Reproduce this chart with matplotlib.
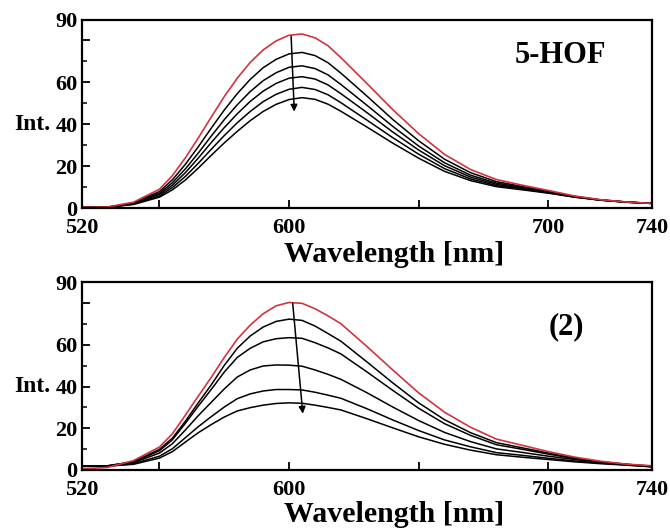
import matplotlib
matplotlib.use('Agg')
import matplotlib.pyplot as plt

plt.rcParams['font.family'] = ['Liberation Serif', 'DejaVu Serif']
plt.rcParams['font.weight'] = 'bold'

_WL = [520, 530, 540, 550, 555, 560, 565, 570, 575, 580, 585, 590, 595,
       600, 605, 610, 615, 620, 630, 640, 650, 660, 670, 680, 690, 700,
       710, 720, 730, 740]

# 5-HOF emission, first spectrum (red) and the following five
_HOF_RED = [0.3, 0.5, 2.8, 9.0, 15.5, 24.0, 33.5, 43.5, 53.2, 62.0, 69.5,
            75.5, 79.8, 82.5, 83.1, 81.3, 77.5, 71.8, 59.5, 47.0, 35.5,
            25.6, 18.4, 13.6, 10.9, 8.4, 5.8, 4.0, 2.9, 2.2]
_HOF_1 = [0.3, 0.45, 2.5, 7.9, 13.5, 20.9, 29.3, 38.2, 46.8, 54.6, 61.4,
          67.0, 71.0, 73.6, 74.3, 72.8, 69.4, 64.4, 53.5, 42.3, 32.1, 23.3,
          16.9, 12.6, 10.3, 8.0, 5.6, 3.9, 2.9, 2.2]
_HOF_2 = [0.3, 0.41, 2.3, 7.1, 12.1, 18.7, 26.3, 34.4, 42.2, 49.3, 55.6,
          60.8, 64.6, 67.2, 67.9, 66.6, 63.6, 59.0, 49.1, 39.0, 29.6, 21.6,
          15.7, 11.9, 9.8, 7.8, 5.5, 3.9, 2.9, 2.2]
_HOF_3 = [0.2, 0.38, 2.1, 6.5, 10.9, 16.9, 23.9, 31.3, 38.4, 45.0, 50.9,
          55.8, 59.5, 62.0, 62.7, 61.6, 58.8, 54.6, 45.6, 36.3, 27.7, 20.2,
          14.8, 11.3, 9.4, 7.6, 5.4, 3.8, 2.8, 2.2]
_HOF_4 = [0.2, 0.35, 1.9, 5.8, 9.8, 15.1, 21.4, 28.1, 34.6, 40.7, 46.1,
          50.8, 54.3, 56.7, 57.6, 56.6, 54.1, 50.3, 42.0, 33.6, 25.7, 18.8,
          13.9, 10.7, 9.1, 7.3, 5.3, 3.8, 2.8, 2.2]
_HOF_5 = [0.2, 0.33, 1.7, 5.2, 8.7, 13.4, 19.1, 25.2, 31.1, 36.6, 41.7,
          46.1, 49.5, 51.8, 52.7, 51.9, 49.6, 46.2, 38.7, 31.0, 23.8, 17.5,
          13.1, 10.2, 8.7, 7.1, 5.2, 3.8, 2.8, 2.2]

# compound (2)
_C2_RED = [0.5, 1.2, 4.5, 11.0, 17.4, 26.3, 35.5, 44.5, 54.0, 62.8, 69.5,
           75.0, 78.8, 80.4, 80.0, 77.4, 74.0, 70.2, 59.3, 48.0, 37.0,
           27.7, 20.5, 14.8, 11.8, 8.8, 6.2, 4.2, 2.8, 2.0]
_C2_1 = [1.8, 2.0, 4.0, 9.9, 15.3, 23.4, 32.3, 40.9, 50.2, 58.4, 64.3,
         68.6, 71.3, 72.4, 71.8, 69.1, 65.5, 61.8, 51.9, 41.8, 32.2, 24.1,
         17.9, 13.1, 10.6, 8.1, 5.8, 4.0, 2.7, 1.8]
_C2_2 = [1.8, 2.0, 3.8, 9.2, 14.5, 22.4, 30.7, 38.7, 47.0, 54.0, 58.4,
         61.5, 63.0, 63.5, 63.2, 61.1, 58.6, 55.7, 47.1, 38.2, 29.6, 22.2,
         16.6, 12.1, 9.9, 7.6, 5.5, 3.9, 2.7, 1.7]
_C2_3 = [1.8, 1.9, 3.5, 8.1, 12.6, 19.2, 26.1, 32.5, 38.9, 44.6, 48.0,
         49.9, 50.4, 50.3, 49.8, 48.0, 45.9, 43.5, 37.1, 30.2, 23.7, 18.0,
         13.6, 10.1, 8.4, 6.6, 5.0, 3.6, 2.6, 1.6]
_C2_4 = [1.7, 1.8, 3.0, 6.6, 10.2, 15.5, 20.8, 25.6, 30.2, 34.2, 36.5,
         37.9, 38.6, 38.6, 38.4, 37.3, 35.9, 34.4, 29.4, 24.0, 18.9, 14.4,
         11.1, 8.3, 7.0, 5.6, 4.3, 3.3, 2.4, 1.5]
_C2_5 = [1.7, 1.8, 2.7, 5.7, 8.8, 13.4, 17.9, 21.8, 25.4, 28.3, 29.9,
         31.1, 31.9, 32.2, 32.0, 31.1, 30.0, 28.8, 24.6, 20.2, 15.9, 12.3,
         9.5, 7.3, 6.1, 5.0, 3.9, 3.0, 2.3, 1.5]

_XTICKS = [520, 550, 600, 650, 700, 740]
_XTICKLABELS = ['520', '', '600', '', '700', '740']
_YTICKS = [0, 20, 40, 60, 80, 90]
_YTICKLABELS = ['0', '20', '40', '60', '', '90']
_YMINOR = [10, 30, 50, 70]

_RED = '#d2333f'


def _panel(ax, red, blacks, tag, arrow, xlabel_y):
  for y in blacks:
    ax.plot(_WL, y, color='black', lw=1.1)
  ax.plot(_WL, red, color=_RED, lw=1.2)

  ax.set_xlim(520, 740)
  ax.set_ylim(0, 90)
  ax.set_xticks(_XTICKS)
  ax.set_xticklabels(_XTICKLABELS)
  ax.set_yticks(_YTICKS)
  ax.set_yticklabels(_YTICKLABELS)
  ax.set_yticks(_YMINOR, minor=True)
  ax.tick_params(direction='in', length=6, width=1.3, labelsize=16,
                 top=False, right=False)
  ax.tick_params(axis='x', pad=7)
  ax.tick_params(axis='y', pad=3)
  ax.tick_params(which='minor', direction='in', length=3.5, width=1.1)
  for s in ax.spines.values():
    s.set_linewidth(1.6)

  ax.annotate('', xy=arrow[1], xytext=arrow[0],
              arrowprops=dict(arrowstyle='-|>', color='black', lw=1.1,
                              mutation_scale=10, shrinkA=0, shrinkB=0))
  ax.text(-0.119, 40, 'Int.', transform=ax.get_yaxis_transform(),
          fontsize=17, ha='left', va='center')
  ax.text(0.548, xlabel_y, 'Wavelength [nm]', transform=ax.transAxes,
          fontsize=21.5, ha='center', va='baseline')
  ax.text(tag[1], tag[2], tag[0], transform=ax.transAxes, fontsize=22,
          ha='left', va='baseline')


fig = plt.figure(figsize=(6.7, 5.28), dpi=100)
ax1 = fig.add_axes([0.122, 0.606, 0.851, 0.357])
ax2 = fig.add_axes([0.122, 0.110, 0.851, 0.355])

_panel(ax1, _HOF_RED, [_HOF_1, _HOF_2, _HOF_3, _HOF_4, _HOF_5],
       ('5-HOF', 0.760, 0.768), ((600.8, 82), (602, 46)), -0.286)
_panel(ax2, _C2_RED, [_C2_1, _C2_2, _C2_3, _C2_4, _C2_5],
       ('(2)', 0.818, 0.726), ((601.4, 80), (605.3, 27)), -0.278)

fig.savefig('out.png', dpi=100)
